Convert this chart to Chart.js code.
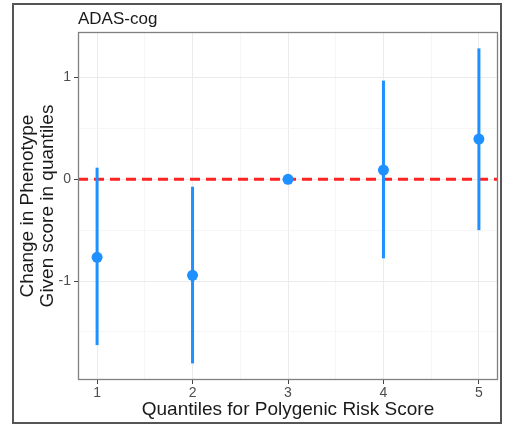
<!DOCTYPE html>
<html><head><meta charset="utf-8">
<script src="https://cdn.jsdelivr.net/npm/chart.js@4.4.1/dist/chart.umd.min.js"></script>
<style>
html,body{margin:0;padding:0;background:#fff;}
#wrap{position:relative;width:513px;height:426px;overflow:hidden;}
#frame{position:absolute;left:12px;top:3px;width:490px;height:421px;border:2px solid #555;box-sizing:border-box;}
canvas{position:absolute;left:0;top:0;}
</style></head><body>
<div id="wrap"><div id="frame"></div><canvas id="c" width="513" height="426"></canvas></div>
<script>
const quantiles = [1, 2, 3, 4, 5];
const estimate  = [-0.767, -0.944, 0, 0.091, 0.396];
const lowerCI   = [-1.63, -1.81, 0, -0.777, -0.50];
const upperCI   = [0.114, -0.073, 0, 0.97, 1.287];
const xTicks = [1, 1.5, 2, 2.5, 3, 3.5, 4, 4.5, 5];
const yTicks = [-1.5, -1, -0.5, 0, 0.5, 1];
const xLimits = [0.8, 5.2];
const yLimits = [-1.973, 1.448];
const refLineY = 0;
const panelTitle = 'ADAS-cog';
const xTitle = 'Quantiles for Polygenic Risk Score';
const yTitle = ['Change in Phenotype', 'Given score in quantiles'];

const FONT = "'Liberation Sans', Arial, sans-serif";
const BLUE = '#1E90FF';
const isMajor = v => Math.abs(v - Math.round(v)) < 1e-9;

const errorBarSets = quantiles.map((q, i) => ({
  type: 'line',
  data: [{x: q, y: lowerCI[i]}, {x: q, y: upperCI[i]}],
  borderColor: BLUE, borderWidth: 3, borderCapStyle: 'butt',
  pointRadius: 0, pointHoverRadius: 0, fill: false, order: 1
}));

const panelBorder = {
  id: 'panelBorder',
  afterDraw(chart) {
    const {ctx, chartArea: a} = chart;
    ctx.save();
    ctx.strokeStyle = '#808080';
    ctx.lineWidth = 1.3;
    ctx.strokeRect(a.left + 0.5, a.top + 0.5, a.right - a.left - 1, a.bottom - a.top - 1);
    ctx.restore();
  }
};

new Chart(document.getElementById('c'), {
  type: 'scatter',
  data: {
    datasets: [
      {
        type: 'scatter',
        data: quantiles.map((q, i) => ({x: q, y: estimate[i]})),
        backgroundColor: BLUE, borderWidth: 0, pointRadius: 5.5, pointHoverRadius: 5.5, order: 0
      },
      ...errorBarSets,
      {
        type: 'line',
        data: [{x: xLimits[0], y: refLineY}, {x: xLimits[1], y: refLineY}],
        borderColor: '#FF2222', borderWidth: 3, borderDash: [10, 6],
        pointRadius: 0, fill: false, order: 2
      }
    ]
  },
  options: {
    responsive: false,
    devicePixelRatio: 1,
    animation: false,
    events: [],
    layout: {padding: {left: 0, right: 15, top: 0, bottom: 0}},
    plugins: {
      legend: {display: false},
      tooltip: {enabled: false},
      title: {
        display: true, text: panelTitle, align: 'start', fullSize: false,
        color: '#1a1a1a', font: {family: FONT, size: 17, weight: 'normal', lineHeight: 1.2},
        padding: {top: 9, bottom: 2.6}
      }
    },
    scales: {
      x: {
        type: 'linear', min: xLimits[0], max: xLimits[1],
        afterBuildTicks: s => { s.ticks = xTicks.map(v => ({value: v})); },
        afterFit: s => { s.height = 46; },
        ticks: {
          autoSkip: false, maxRotation: 0, padding: 1,
          color: '#4d4d4d', font: {family: FONT, size: 14},
          callback: v => isMajor(v) ? String(v) : ''
        },
        grid: {
          color: c => isMajor(c.tick.value) ? '#ebebeb' : '#f4f4f4',
          lineWidth: c => isMajor(c.tick.value) ? 1 : 0.8,
          tickColor: c => isMajor(c.tick.value) ? '#444' : 'rgba(0,0,0,0)',
          tickLength: 4
        },
        border: {display: false},
        title: {
          display: true, text: xTitle, color: '#1a1a1a',
          font: {family: FONT, size: 19, lineHeight: 1.05},
          padding: {top: 0, bottom: 6}
        }
      },
      y: {
        type: 'linear', min: yLimits[0], max: yLimits[1],
        afterBuildTicks: s => { s.ticks = yTicks.map(v => ({value: v})); },
        afterFit: s => { s.width = 78; },
        ticks: {
          autoSkip: false, padding: 3,
          color: '#4d4d4d', font: {family: FONT, size: 14},
          callback: v => isMajor(v) ? String(v) : ''
        },
        grid: {
          color: c => isMajor(c.tick.value) ? '#ebebeb' : '#f4f4f4',
          lineWidth: c => isMajor(c.tick.value) ? 1 : 0.8,
          tickColor: c => isMajor(c.tick.value) ? '#444' : 'rgba(0,0,0,0)',
          tickLength: 4
        },
        border: {display: false},
        title: {
          display: true, text: yTitle, color: '#1a1a1a',
          font: {family: FONT, size: 19, lineHeight: 1.05},
          padding: {top: 18, bottom: 0}
        }
      }
    }
  },
  plugins: [panelBorder]
});
</script>
</body></html>
